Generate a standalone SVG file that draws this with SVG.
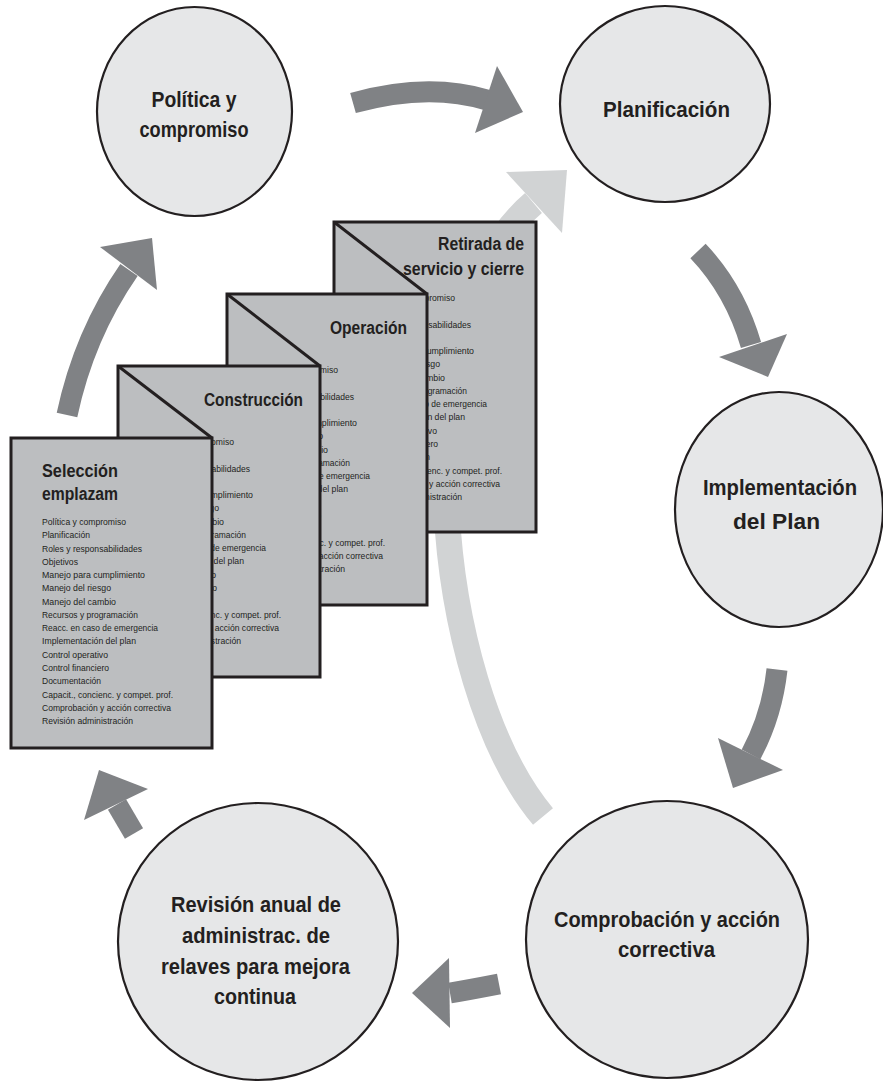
<svg xmlns="http://www.w3.org/2000/svg" xmlns:xlink="http://www.w3.org/1999/xlink" width="883" height="1091" viewBox="0 0 883 1091">
<style>
.circ{fill:#e6e7e8;stroke:#231f20;stroke-width:2.2}
.page{fill:#bcbec0;stroke:#231f20;stroke-width:3}
.fold{fill:none;stroke:#231f20;stroke-width:3}
.ct{font-family:"Liberation Sans Narrow","Liberation Sans",Arial,sans-serif;font-weight:bold;font-size:22px;fill:#231f20;text-anchor:middle}
.pt{font-family:"Liberation Sans Narrow","Liberation Sans",Arial,sans-serif;font-weight:bold;font-size:18px;fill:#231f20}
.ptr{text-anchor:end}
.li{font-family:"Liberation Sans Narrow","Liberation Sans",Arial,sans-serif;font-size:9.5px;fill:#231f20}
.shaft{fill:none;stroke:#808285;stroke-width:21}
.head{fill:#808285}
.lshaft{fill:none;stroke:#d1d3d4;stroke-width:26}
.lhead{fill:#d1d3d4}
</style>
<defs>
<g id="list" class="li">
<text x="42" y="525" textLength="84" lengthAdjust="spacingAndGlyphs">Política y compromiso</text>
<text x="42" y="538.3" textLength="48" lengthAdjust="spacingAndGlyphs">Planificación</text>
<text x="42" y="551.5" textLength="100" lengthAdjust="spacingAndGlyphs">Roles y responsabilidades</text>
<text x="42" y="564.8" textLength="36" lengthAdjust="spacingAndGlyphs">Objetivos</text>
<text x="42" y="578.1" textLength="103" lengthAdjust="spacingAndGlyphs">Manejo para cumplimiento</text>
<text x="42" y="591.4" textLength="69" lengthAdjust="spacingAndGlyphs">Manejo del riesgo</text>
<text x="42" y="604.6" textLength="74" lengthAdjust="spacingAndGlyphs">Manejo del cambio</text>
<text x="42" y="617.9" textLength="96" lengthAdjust="spacingAndGlyphs">Recursos y programación</text>
<text x="42" y="631.2" textLength="116" lengthAdjust="spacingAndGlyphs">Reacc. en caso de emergencia</text>
<text x="42" y="644.4" textLength="94" lengthAdjust="spacingAndGlyphs">Implementación del plan</text>
<text x="42" y="657.7" textLength="66" lengthAdjust="spacingAndGlyphs">Control operativo</text>
<text x="42" y="671" textLength="67" lengthAdjust="spacingAndGlyphs">Control financiero</text>
<text x="42" y="684.2" textLength="59" lengthAdjust="spacingAndGlyphs">Documentación</text>
<text x="42" y="697.5" textLength="131" lengthAdjust="spacingAndGlyphs">Capacit., concienc. y compet. prof.</text>
<text x="42" y="710.8" textLength="129" lengthAdjust="spacingAndGlyphs">Comprobación y acción correctiva</text>
<text x="42" y="724.1" textLength="91" lengthAdjust="spacingAndGlyphs">Revisión administración</text>
</g>
</defs>
<rect width="883" height="1091" fill="#ffffff"/>

<g id="connectors">
<g id="arrow-retro">
<path class="lshaft" d="M543,816.5 C431,683 400,316 533.5,203"/>
<polygon class="lhead" points="506,172 567,170 562,233"/>
</g>
<g id="arrow-politica-planificacion">
<path class="shaft" d="M353,103 Q428,82 487,100"/>
<polygon class="head" points="497,66 523,112 475,133"/>
</g>
<g id="arrow-planificacion-implementacion">
<path class="shaft" d="M698,251 Q735,290 751,345"/>
<polygon class="head" points="719,357 768,377 787,334"/>
</g>
<g id="arrow-implementacion-comprobacion">
<path class="shaft" d="M777,669.5 Q772,715 751,754.5"/>
<polygon class="head" points="718,738 733,788 783,770"/>
</g>
<g id="arrow-comprobacion-revision">
<path class="shaft" d="M499,984 Q468,990 450,993"/>
<polygon class="head" points="449,958 412,993 450,1028"/>
</g>
<g id="arrow-revision-seleccion">
<path class="shaft" d="M134,833.5 L117,804.5"/>
<polygon class="head" points="99,770 148,789 84,820"/>
</g>
<g id="arrow-seleccion-politica">
<path class="shaft" d="M67,415 Q84,335 129,270"/>
<polygon class="head" points="100,247 152,238 157,290"/>
</g>
</g>

<g id="page-retirada">
<rect class="page" x="334" y="222" width="202" height="310"/>
<text class="pt ptr" x="524" y="250" textLength="86" lengthAdjust="spacingAndGlyphs">Retirada de</text>
<text class="pt ptr" x="524" y="275" textLength="121" lengthAdjust="spacingAndGlyphs">servicio y cierre</text>
<use xlink:href="#list" href="#list" x="329" y="-224"/>
<line class="fold" x1="334" y1="222" x2="427" y2="294"/>
</g>
<g id="page-operacion">
<rect class="page" x="227" y="294" width="200" height="311"/>
<text class="pt ptr" x="407" y="334" textLength="77" lengthAdjust="spacingAndGlyphs">Operación</text>
<use xlink:href="#list" href="#list" x="212" y="-152"/>
<line class="fold" x1="227" y1="294" x2="320" y2="366"/>
</g>
<g id="page-construccion">
<rect class="page" x="118" y="366" width="202" height="311"/>
<text class="pt ptr" x="303" y="406" textLength="99" lengthAdjust="spacingAndGlyphs">Construcción</text>
<use xlink:href="#list" href="#list" x="108" y="-80"/>
<line class="fold" x1="118" y1="366" x2="212" y2="438"/>
</g>
<g id="page-seleccion">
<rect class="page" x="11" y="438" width="201" height="310"/>
<text class="pt" x="42" y="477" textLength="76" lengthAdjust="spacingAndGlyphs">Selección</text>
<text class="pt" x="42" y="500" textLength="76" lengthAdjust="spacingAndGlyphs">emplazam</text>
<use xlink:href="#list" href="#list" x="0" y="0"/>
</g>

<g id="node-politica">
<ellipse class="circ" cx="194.5" cy="111.5" rx="97.5" ry="104.5"/>
<text class="ct" x="194" y="107" textLength="85" lengthAdjust="spacingAndGlyphs">Política y</text>
<text class="ct" x="194" y="137" textLength="109" lengthAdjust="spacingAndGlyphs">compromiso</text>
</g>
<g id="node-planificacion">
<ellipse class="circ" cx="665" cy="104" rx="105" ry="98"/>
<text class="ct" x="666.5" y="117" textLength="127" lengthAdjust="spacingAndGlyphs">Planificación</text>
</g>
<g id="node-implementacion">
<ellipse class="circ" cx="779" cy="509.5" rx="104" ry="117.5"/>
<text class="ct" x="780" y="495" textLength="154" lengthAdjust="spacingAndGlyphs">Implementación</text>
<text class="ct" x="776.5" y="529" textLength="87" lengthAdjust="spacingAndGlyphs">del Plan</text>
</g>
<g id="node-comprobacion">
<ellipse class="circ" cx="667" cy="939.5" rx="141" ry="138.5"/>
<text class="ct" x="667" y="927" textLength="226" lengthAdjust="spacingAndGlyphs">Comprobación y acción</text>
<text class="ct" x="666.5" y="957" textLength="97" lengthAdjust="spacingAndGlyphs">correctiva</text>
</g>
<g id="node-revision">
<ellipse class="circ" cx="258" cy="941.5" rx="140" ry="138.5"/>
<text class="ct" x="256" y="912" textLength="170" lengthAdjust="spacingAndGlyphs">Revisión anual de</text>
<text class="ct" x="256" y="943" textLength="148" lengthAdjust="spacingAndGlyphs">administrac. de</text>
<text class="ct" x="255.5" y="974" textLength="189" lengthAdjust="spacingAndGlyphs">relaves para mejora</text>
<text class="ct" x="255" y="1004" textLength="82" lengthAdjust="spacingAndGlyphs">continua</text>
</g>
</svg>
